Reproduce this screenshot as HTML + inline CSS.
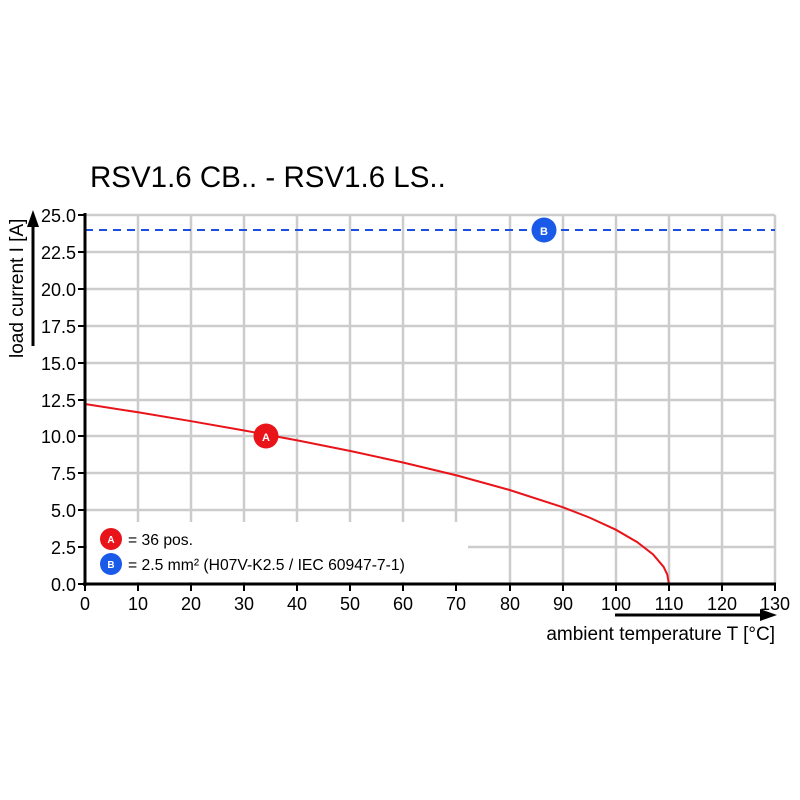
<!DOCTYPE html>
<html><head><meta charset="utf-8"><style>body{margin:0;background:#fff}svg{display:block}text{font-family:"Liberation Sans",Arial,sans-serif}</style></head><body>
<svg width="800" height="800" viewBox="0 0 800 800" xmlns="http://www.w3.org/2000/svg">
<rect width="800" height="800" fill="#fff"/>
<text x="90" y="187" font-size="29.5" fill="#000">RSV1.6 CB.. - RSV1.6 LS..</text>
<g stroke="#cccccc" stroke-width="2.5">
<line x1="138" y1="215" x2="138" y2="584"/><line x1="191" y1="215" x2="191" y2="584"/><line x1="244" y1="215" x2="244" y2="584"/><line x1="297" y1="215" x2="297" y2="584"/><line x1="350" y1="215" x2="350" y2="584"/><line x1="403" y1="215" x2="403" y2="584"/><line x1="456" y1="215" x2="456" y2="584"/><line x1="510" y1="215" x2="510" y2="584"/><line x1="563" y1="215" x2="563" y2="584"/><line x1="616" y1="215" x2="616" y2="584"/><line x1="669" y1="215" x2="669" y2="584"/><line x1="722" y1="215" x2="722" y2="584"/><line x1="775" y1="215" x2="775" y2="584"/>
<line x1="85" y1="215" x2="775" y2="215"/><line x1="85" y1="252" x2="775" y2="252"/><line x1="85" y1="289" x2="775" y2="289"/><line x1="85" y1="326" x2="775" y2="326"/><line x1="85" y1="363" x2="775" y2="363"/><line x1="85" y1="400" x2="775" y2="400"/><line x1="85" y1="436" x2="775" y2="436"/><line x1="85" y1="473" x2="775" y2="473"/><line x1="85" y1="510" x2="775" y2="510"/><line x1="85" y1="547" x2="775" y2="547"/>
</g>
<rect x="87" y="522" width="381" height="60" fill="#fff"/>
<line x1="85" y1="230" x2="775" y2="230" stroke="#1a4fe0" stroke-width="2" stroke-dasharray="8,6"/>
<polyline fill="none" stroke="#e8141a" stroke-width="2" points="85,404 138.1,412.3 191.2,421.2 244.2,430.5 297.3,440.4 350.4,451 403.5,462.6 456.6,475.4 509.6,490 562.7,507.2 589.3,517.5 615.8,529.7 637,542 653,554.3 663.6,566.8 667.3,574.6 668.9,584"/>
<line x1="85" y1="213" x2="85" y2="586" stroke="#000" stroke-width="3"/>
<line x1="83" y1="584" x2="776" y2="584" stroke="#000" stroke-width="3"/>
<g stroke="#000" stroke-width="2">
<line x1="78" y1="215" x2="85" y2="215"/><line x1="78" y1="252" x2="85" y2="252"/><line x1="78" y1="289" x2="85" y2="289"/><line x1="78" y1="326" x2="85" y2="326"/><line x1="78" y1="363" x2="85" y2="363"/><line x1="78" y1="400" x2="85" y2="400"/><line x1="78" y1="436" x2="85" y2="436"/><line x1="78" y1="473" x2="85" y2="473"/><line x1="78" y1="510" x2="85" y2="510"/><line x1="78" y1="547" x2="85" y2="547"/><line x1="78" y1="584" x2="85" y2="584"/>
<line x1="85" y1="584" x2="85" y2="591"/><line x1="138" y1="584" x2="138" y2="591"/><line x1="191" y1="584" x2="191" y2="591"/><line x1="244" y1="584" x2="244" y2="591"/><line x1="297" y1="584" x2="297" y2="591"/><line x1="350" y1="584" x2="350" y2="591"/><line x1="403" y1="584" x2="403" y2="591"/><line x1="456" y1="584" x2="456" y2="591"/><line x1="510" y1="584" x2="510" y2="591"/><line x1="563" y1="584" x2="563" y2="591"/><line x1="616" y1="584" x2="616" y2="591"/><line x1="669" y1="584" x2="669" y2="591"/><line x1="722" y1="584" x2="722" y2="591"/><line x1="775" y1="584" x2="775" y2="591"/>
</g>
<g font-size="18" text-anchor="end">
<text x="76" y="222">25.0</text><text x="76" y="259">22.5</text><text x="76" y="296">20.0</text><text x="76" y="333">17.5</text><text x="76" y="370">15.0</text><text x="76" y="407">12.5</text><text x="76" y="443">10.0</text><text x="76" y="480">7.5</text><text x="76" y="517">5.0</text><text x="76" y="554">2.5</text><text x="76" y="591">0.0</text>
</g>
<g font-size="18" text-anchor="middle">
<text x="85" y="610">0</text><text x="138" y="610">10</text><text x="191" y="610">20</text><text x="244" y="610">30</text><text x="297" y="610">40</text><text x="350" y="610">50</text><text x="403" y="610">60</text><text x="456" y="610">70</text><text x="510" y="610">80</text><text x="563" y="610">90</text><text x="616" y="610">100</text><text x="669" y="610">110</text><text x="722" y="610">120</text><text x="775" y="610">130</text>
</g>
<text transform="translate(23,358) rotate(-90)" font-size="19">load current I [A]</text>
<line x1="33" y1="346" x2="33" y2="225" stroke="#000" stroke-width="3"/>
<polygon points="33,210 27,227 39,227" fill="#000"/>
<text x="775" y="640" font-size="19" text-anchor="end">ambient temperature T [°C]</text>
<line x1="615" y1="615" x2="762" y2="615" stroke="#000" stroke-width="3"/>
<polygon points="777,615 760,609 760,621" fill="#000"/>
<circle cx="544" cy="230" r="12.5" fill="#1a5ae8"/><text x="544" y="235" font-size="11" font-weight="bold" fill="#fff" text-anchor="middle">B</text>
<circle cx="266" cy="436" r="12.5" fill="#e8141a"/><text x="266" y="441" font-size="11" font-weight="bold" fill="#fff" text-anchor="middle">A</text>
<circle cx="111" cy="539" r="11" fill="#e8141a"/><text x="111" y="543" font-size="10" font-weight="bold" fill="#fff" text-anchor="middle">A</text>
<circle cx="111" cy="564" r="11" fill="#1a5ae8"/><text x="111" y="568" font-size="10" font-weight="bold" fill="#fff" text-anchor="middle">B</text>
<text x="128" y="545" font-size="15.7">= 36 pos.</text>
<text x="128" y="570" font-size="15.7">= 2.5 mm² (H07V-K2.5 / IEC 60947-7-1)</text>
</svg>
</body></html>
